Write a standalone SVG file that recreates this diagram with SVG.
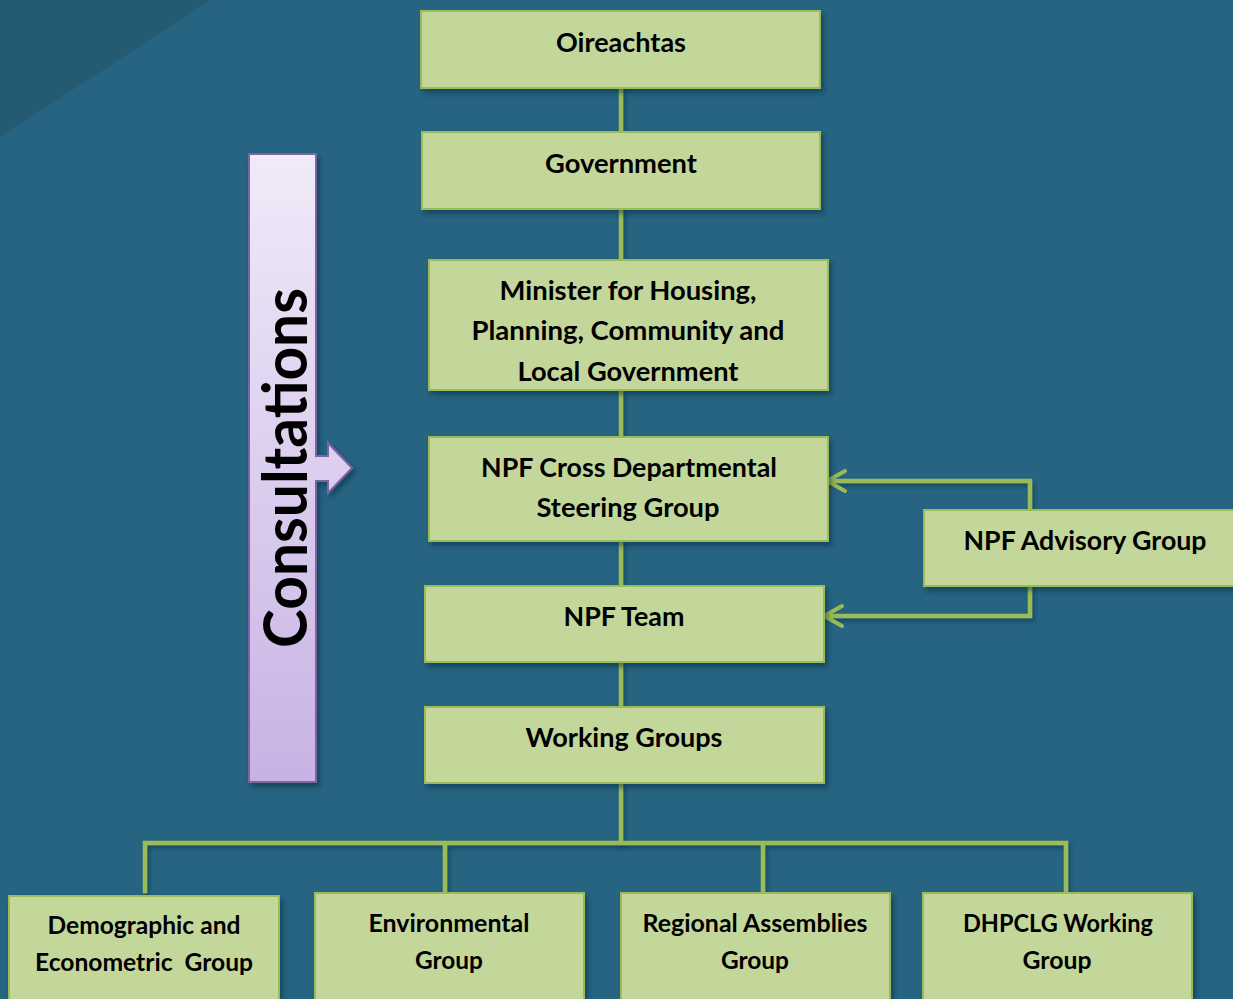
<svg xmlns="http://www.w3.org/2000/svg" width="1233" height="999" viewBox="0 0 1233 999">
  <defs>
    <linearGradient id="consultFill" gradientUnits="userSpaceOnUse" x1="0" y1="154" x2="0" y2="782">
      <stop offset="0" stop-color="#F0EBF9"/>
      <stop offset="1" stop-color="#C8B2E4"/>
    </linearGradient>
    <filter id="shadow" x="-10%" y="-10%" width="130%" height="140%">
      <feDropShadow dx="3" dy="4" stdDeviation="2.5" flood-color="#0b2533" flood-opacity="0.45"/>
    </filter>
    <!-- user-space region so that purely vertical or horizontal lines keep their shadow -->
    <filter id="lineShadow" filterUnits="userSpaceOnUse" x="0" y="0" width="1233" height="999">
      <feDropShadow dx="2" dy="3" stdDeviation="2" flood-color="#0b2533" flood-opacity="0.45"/>
    </filter>
  </defs>
  <style>
    .box { fill: #C4D79B; stroke: #9BBB59; stroke-width: 2; filter: url(#shadow); }
    .lbl { font-family: Lato, "Liberation Sans", sans-serif; font-weight: bold; font-size: 27px; fill: #000; text-anchor: middle; }
    .sm { font-size: 25px; }
    .link { fill: none; stroke: #9BBB59; stroke-width: 4.5; stroke-linecap: square; filter: url(#lineShadow); }
    .head { fill: none; stroke: #9BBB59; stroke-width: 4; stroke-linecap: round; stroke-linejoin: round; }
  </style>

  <!-- background -->
  <rect x="0" y="0" width="1233" height="999" fill="#266482"/>
  <polygon points="0,0 211,0 0,137" fill="#245B73"/>

  <!-- connectors -->
  <g id="connectors">
    <path class="link" d="M621,88 V132 M621,209 V260 M621,390 V437 M621,541 V586 M621,662 V707 M621,783 V842"/>
    <path class="link" d="M145,891 V843 H1066 V891 M445,843 V891 M763,843 V891"/>
    <path class="link" d="M1030,510 V481 H828 M1030,586 V616 H826"/>
    <polyline class="head" points="845,471 827,481 845,491"/>
    <polyline class="head" points="842,606 824,616 842,626"/>
  </g>

  <!-- consultations arrow -->
  <g id="consultations">
    <path d="M249,154 H316 V456 H328 V443 L352,468 L328,493 V481 H316 V782 H249 Z" fill="url(#consultFill)" stroke="#8064A2" stroke-width="2" filter="url(#shadow)"/>
    <text transform="translate(307,468) rotate(-90)" font-family="Lato, 'Liberation Sans', sans-serif" font-weight="bold" font-size="62" text-anchor="middle" textLength="360" lengthAdjust="spacingAndGlyphs" fill="#000">Consultations</text>
  </g>

  <g id="oireachtas">
    <rect class="box" x="421" y="11" width="399" height="77"/>
    <text class="lbl" x="621" y="52" textLength="130" lengthAdjust="spacingAndGlyphs">Oireachtas</text>
  </g>

  <g id="government">
    <rect class="box" x="422" y="132" width="398" height="77"/>
    <text class="lbl" x="621" y="173" textLength="152" lengthAdjust="spacingAndGlyphs">Government</text>
  </g>

  <g id="minister">
    <rect class="box" x="429" y="260" width="399" height="130"/>
    <text class="lbl" x="628" y="300" textLength="257" lengthAdjust="spacingAndGlyphs">Minister for Housing,</text>
    <text class="lbl" x="628" y="340" textLength="313" lengthAdjust="spacingAndGlyphs">Planning, Community and</text>
    <text class="lbl" x="628" y="381" textLength="221" lengthAdjust="spacingAndGlyphs">Local Government</text>
  </g>

  <g id="steering-group">
    <rect class="box" x="429" y="437" width="399" height="104"/>
    <text class="lbl" x="629" y="477" textLength="296" lengthAdjust="spacingAndGlyphs">NPF Cross Departmental</text>
    <text class="lbl" x="628" y="517" textLength="183" lengthAdjust="spacingAndGlyphs">Steering Group</text>
  </g>

  <g id="npf-team">
    <rect class="box" x="425" y="586" width="399" height="76"/>
    <text class="lbl" x="624" y="626" textLength="121" lengthAdjust="spacingAndGlyphs">NPF Team</text>
  </g>

  <g id="working-groups">
    <rect class="box" x="425" y="707" width="399" height="76"/>
    <text class="lbl" x="624" y="747" textLength="197" lengthAdjust="spacingAndGlyphs">Working Groups</text>
  </g>

  <g id="advisory-group">
    <rect class="box" x="924" y="510" width="320" height="76"/>
    <text class="lbl" x="1085" y="550" textLength="243" lengthAdjust="spacingAndGlyphs">NPF Advisory Group</text>
  </g>

  <g id="demographic">
    <rect class="box" x="9" y="896" width="270" height="115"/>
    <text class="lbl sm" x="144" y="934" textLength="193" lengthAdjust="spacingAndGlyphs">Demographic and</text>
    <text class="lbl sm" x="144" y="971" textLength="218" lengthAdjust="spacingAndGlyphs" xml:space="preserve">Econometric  Group</text>
  </g>

  <g id="environmental">
    <rect class="box" x="315" y="893" width="269" height="118"/>
    <text class="lbl sm" x="449" y="932" textLength="161" lengthAdjust="spacingAndGlyphs">Environmental</text>
    <text class="lbl sm" x="449" y="969" textLength="68" lengthAdjust="spacingAndGlyphs">Group</text>
  </g>

  <g id="regional-assemblies">
    <rect class="box" x="621" y="893" width="269" height="118"/>
    <text class="lbl sm" x="755" y="932" textLength="225" lengthAdjust="spacingAndGlyphs">Regional Assemblies</text>
    <text class="lbl sm" x="755" y="969" textLength="68" lengthAdjust="spacingAndGlyphs">Group</text>
  </g>

  <g id="dhpclg">
    <rect class="box" x="923" y="893" width="269" height="118"/>
    <text class="lbl sm" x="1058" y="932" textLength="190" lengthAdjust="spacingAndGlyphs">DHPCLG Working</text>
    <text class="lbl sm" x="1057" y="969" textLength="69" lengthAdjust="spacingAndGlyphs">Group</text>
  </g>
</svg>
